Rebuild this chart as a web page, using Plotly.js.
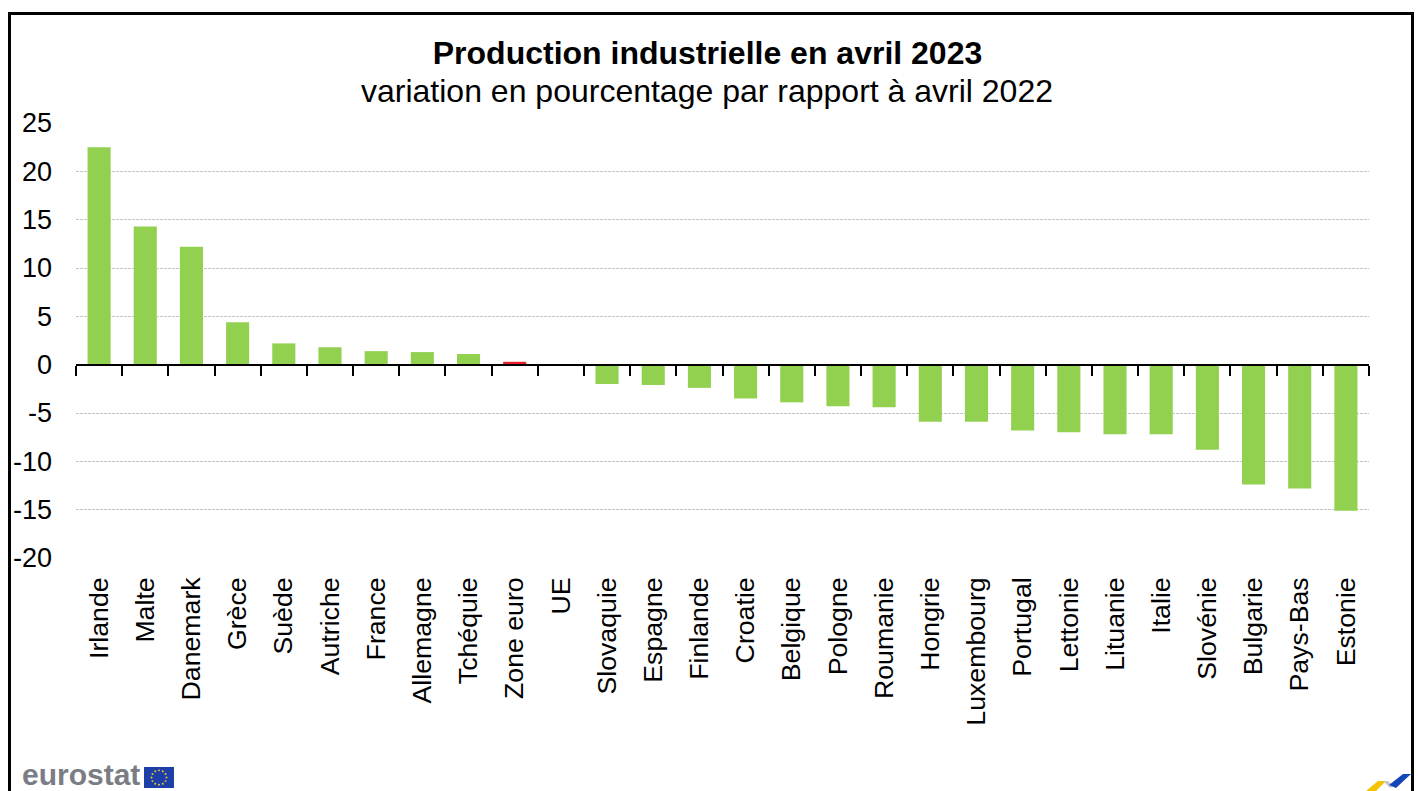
<!DOCTYPE html>
<html>
<head>
<meta charset="utf-8">
<script src="https://cdn.plot.ly/plotly-3.0.1.min.js"></script>
<style>
html,body{margin:0;padding:0;background:#fff;overflow:hidden;width:1418px;height:791px}
#chart{position:absolute;left:0;top:0;width:1418px;height:791px}
#frame{position:absolute;left:8px;top:12px;width:1400px;height:800px;border:3px solid #000;pointer-events:none}
#flag,#swoosh{position:absolute}
</style>
</head>
<body>
<div id="chart"></div>
<div id="frame"></div>
<svg id="flag" style="left:144px;top:767px" width="30" height="21" viewBox="0 0 30 22" preserveAspectRatio="none"></svg>
<svg id="swoosh" style="left:1364px;top:771px" width="48" height="20" viewBox="0 0 48 20">
  <polygon points="2,20 14,10 22,10 12,20" fill="#f5c400"/>
  <polygon points="19,10 24,10 30,15 26,17" fill="#c8c8c8"/>
  <polygon points="25,14 39,3 47,3 32,17" fill="#1546b8"/>
</svg>
<script>
const titleText = 'Production industrielle en avril 2023';
const subtitleText = 'variation en pourcentage par rapport à avril 2022';
const countries = ['Irlande','Malte','Danemark','Grèce','Suède','Autriche','France','Allemagne','Tchéquie','Zone euro','UE','Slovaquie','Espagne','Finlande','Croatie','Belgique','Pologne','Roumanie','Hongrie','Luxembourg','Portugal','Lettonie','Lituanie','Italie','Slovénie','Bulgarie','Pays-Bas','Estonie'];
const changes = [22.5,14.3,12.2,4.4,2.2,1.8,1.4,1.3,1.1,0.3,null,-2.0,-2.1,-2.4,-3.5,-3.9,-4.3,-4.4,-5.9,-5.9,-6.8,-7.0,-7.2,-7.2,-8.8,-12.4,-12.8,-15.1];
const yTicks = [-20,-15,-10,-5,0,5,10,15,20,25];
const GREEN = '#92d050', RED = '#e8202a';
const colors = countries.map(c => c === 'Zone euro' ? RED : GREEN);

const font = 'Liberation Sans, Arial, sans-serif';
Plotly.newPlot('chart', [{
  type:'bar', x:countries, y:changes,
  marker:{color:colors, line:{width:0}},
  hoverinfo:'x+y'
}], {
  width:1418, height:791,
  margin:{l:76,r:49,t:123,b:233,pad:0},
  paper_bgcolor:'#fff', plot_bgcolor:'#fff',
  bargap:0.5,
  showlegend:false,
  font:{family:font,color:'#000'},
  title:{text:'<b>'+titleText+'</b>', font:{family:font,size:32,color:'#000'}, x:707.5/1418, xanchor:'center', xref:'container', y:0.933, yanchor:'middle', automargin:false},
  annotations:[
    {text:subtitleText, xref:'paper', yref:'paper', x:0.5, y:1, xanchor:'center', yanchor:'bottom', xshift:-16, yshift:12, showarrow:false, font:{family:font,size:32,color:'#000'}},
    {text:'<b>eurostat</b>', xref:'paper', yref:'paper', x:0, y:0, xanchor:'left', yanchor:'top', xshift:-56, yshift:-198, showarrow:false, font:{family:font,size:30,color:'#7a7d85'}}
  ],
  xaxis:{
    type:'category', categoryorder:'array', categoryarray:countries,
    range:[-0.5,27.5], fixedrange:true,
    anchor:'free', position:20/45,
    showline:true, linecolor:'#000', linewidth:2,
    ticks:'outside', ticklen:10, tickwidth:1.5, tickcolor:'#000', tickson:'boundaries',
    tickangle:-90, ticklabelstandoff:201,
    tickfont:{family:font,size:26.7,color:'#000'},
    showgrid:false, zeroline:false, automargin:false
  },
  yaxis:{
    range:[-20,25], tickvals:yTicks, ticktext:yTicks.map(String), fixedrange:true,
    showline:false, ticks:'', ticklabelstandoff:23,
    tickfont:{family:font,size:27,color:'#000'},
    showgrid:true, gridcolor:'#c4c4c4', griddash:'3px,1px', gridwidth:1,
    zeroline:false, automargin:false
  }
}, {staticPlot:false, displayModeBar:false});

// EU flag of the eurostat logo
const flag = document.getElementById('flag');
let s = '<rect width="30" height="22" fill="#1e3fa8"/>';
for (let i = 0; i < 12; i++) {
  const a = i * Math.PI / 6;
  s += '<circle cx="' + (15 + 7.5*Math.cos(a)) + '" cy="' + (11 + 7.5*Math.sin(a)) + '" r="1" fill="#e8c832"/>';
}
flag.innerHTML = s;
</script>
</body>
</html>
